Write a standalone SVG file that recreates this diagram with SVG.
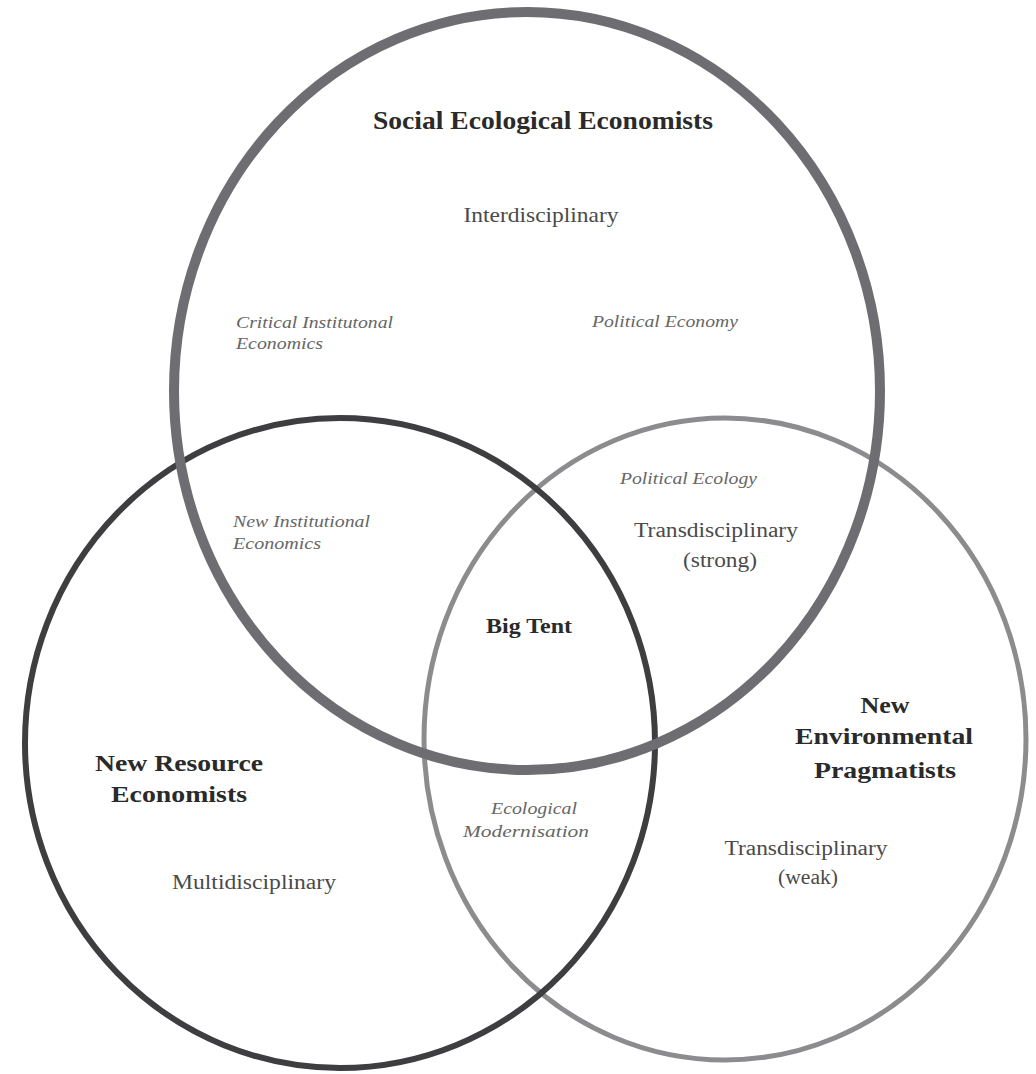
<svg xmlns="http://www.w3.org/2000/svg" width="1036" height="1074" viewBox="0 0 1036 1074">
<style>
.c{fill:none}
.t{font-family:"Liberation Serif","Times New Roman",serif;text-anchor:middle}
.b{font-weight:bold;fill:#2a2a2a}
.r{fill:#4a4a4a}
.i{font-style:italic;fill:#666;font-size:16px;text-anchor:start}
</style>
<rect width="1036" height="1074" fill="#fff"/>
<g id="connectors"></g>
<g id="new-environmental-pragmatists">
<ellipse class="c" cx="725" cy="739" rx="301" ry="321" stroke="#8c8c8e" stroke-width="5"/>
</g>
<g id="new-resource-economists">
<ellipse class="c" cx="340" cy="743" rx="315" ry="325" stroke="#3e3e40" stroke-width="6"/>
</g>
<g id="social-ecological-economists">
<ellipse class="c" cx="527" cy="391" rx="353" ry="379" stroke="#6e6e72" stroke-width="10"/>
</g>
<g id="labels">
<text class="t b" x="543" y="129" font-size="25" textLength="340" lengthAdjust="spacingAndGlyphs">Social Ecological Economists</text>
<text class="t r" x="541" y="222" font-size="21" textLength="155" lengthAdjust="spacingAndGlyphs">Interdisciplinary</text>
<text class="t i" x="236" y="328" textLength="157" lengthAdjust="spacingAndGlyphs">Critical Institutonal</text>
<text class="t i" x="236" y="349" textLength="87" lengthAdjust="spacingAndGlyphs">Economics</text>
<text class="t i" x="592" y="327" textLength="146" lengthAdjust="spacingAndGlyphs">Political Economy</text>
<text class="t i" x="620" y="484" textLength="137" lengthAdjust="spacingAndGlyphs">Political Ecology</text>
<text class="t i" x="233" y="527" textLength="137" lengthAdjust="spacingAndGlyphs">New Institutional</text>
<text class="t i" x="233" y="549" textLength="88" lengthAdjust="spacingAndGlyphs">Economics</text>
<text class="t r" x="716" y="537" font-size="20" textLength="164" lengthAdjust="spacingAndGlyphs">Transdisciplinary</text>
<text class="t r" x="720" y="567" font-size="20" textLength="74" lengthAdjust="spacingAndGlyphs">(strong)</text>
<text class="t b" x="529" y="633" font-size="21" textLength="86" lengthAdjust="spacingAndGlyphs">Big Tent</text>
<text class="t b" x="885" y="713" font-size="23" textLength="49" lengthAdjust="spacingAndGlyphs">New</text>
<text class="t b" x="884" y="744" font-size="23" textLength="178" lengthAdjust="spacingAndGlyphs">Environmental</text>
<text class="t b" x="885" y="778" font-size="23" textLength="142" lengthAdjust="spacingAndGlyphs">Pragmatists</text>
<text class="t b" x="179" y="771" font-size="23" textLength="168" lengthAdjust="spacingAndGlyphs">New Resource</text>
<text class="t b" x="179" y="802" font-size="23" textLength="136" lengthAdjust="spacingAndGlyphs">Economists</text>
<text class="t r" x="254" y="889" font-size="20" textLength="164" lengthAdjust="spacingAndGlyphs">Multidisciplinary</text>
<text class="t i" x="534" y="814" style="text-anchor:middle" textLength="86" lengthAdjust="spacingAndGlyphs">Ecological</text>
<text class="t i" x="526" y="837" style="text-anchor:middle" textLength="126" lengthAdjust="spacingAndGlyphs">Modernisation</text>
<text class="t r" x="806" y="855" font-size="20" textLength="163" lengthAdjust="spacingAndGlyphs">Transdisciplinary</text>
<text class="t r" x="808" y="884" font-size="20" textLength="60" lengthAdjust="spacingAndGlyphs">(weak)</text>
</g>
</svg>
